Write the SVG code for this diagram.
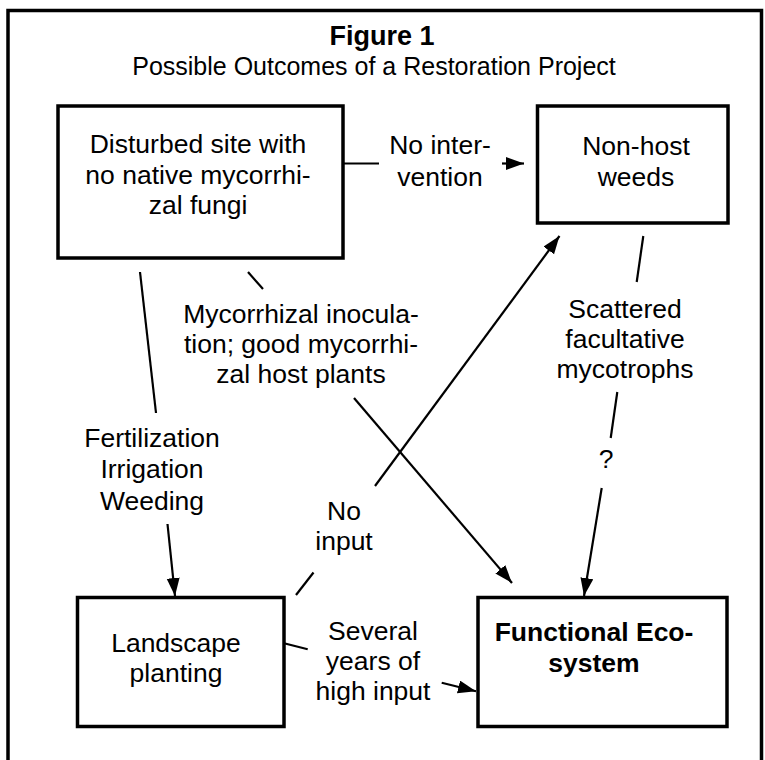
<svg xmlns="http://www.w3.org/2000/svg" width="765" height="760" viewBox="0 0 765 760">
<defs>
<style>
text{font-family:"Liberation Sans",Arial,sans-serif;font-size:26.5px;fill:#000;text-anchor:middle}
.b{font-weight:bold}
.box{fill:#fff;stroke:#000;stroke-width:3.5}
.c line{stroke:#000;stroke-width:2.2}
.c .a{marker-end:url(#ah)}
</style>
<marker id="ah" markerUnits="userSpaceOnUse" markerWidth="20" markerHeight="14" refX="18" refY="6.5" orient="auto" viewBox="0 0 20 14">
<path d="M0,0 L18,6.5 L0,13 z" fill="#000"/>
</marker>
</defs>
<rect x="0" y="0" width="765" height="760" fill="#fff"/>
<path id="frame" d="M8,800 L8,10.5 L761.5,10.5 L761.5,800" fill="none" stroke="#000" stroke-width="3.5"/>
<g id="title">
<text class="b" x="382" y="45" style="font-size:27px">Figure 1</text>
<text x="374" y="75" style="font-size:25px">Possible Outcomes of a Restoration Project</text>
</g>
<g id="n1">
<rect class="box" x="58" y="106" width="285" height="152"/>
<text x="198" y="153">Disturbed site with</text>
<text x="198" y="184">no native mycorrhi-</text>
<text x="198" y="214">zal fungi</text>
</g>
<g id="n2">
<rect class="box" x="537.5" y="106" width="190.5" height="117"/>
<text x="636" y="155">Non-host</text>
<text x="636" y="186">weeds</text>
</g>
<g id="n3">
<rect class="box" x="77.5" y="597.5" width="206.5" height="129"/>
<text x="176" y="652">Landscape</text>
<text x="176" y="682">planting</text>
</g>
<g id="n4">
<rect class="box" x="478" y="597.5" width="249" height="129"/>
<text class="b" x="594" y="641">Functional Eco-</text>
<text class="b" x="594" y="672">system</text>
</g>
<g id="connectors" class="c">
<line x1="343" y1="163.5" x2="379" y2="163.5"/>
<line class="a" x1="502" y1="163.5" x2="524" y2="163.5"/>
<line x1="140" y1="272" x2="156" y2="413"/>
<line class="a" x1="167.5" y1="524" x2="175" y2="596"/>
<line x1="248" y1="272" x2="263" y2="289"/>
<line class="a" x1="354" y1="398" x2="512" y2="583"/>
<line x1="296" y1="595" x2="313.5" y2="572.5"/>
<line class="a" x1="375" y1="486" x2="559.5" y2="236"/>
<line x1="643.3" y1="236" x2="636.7" y2="282"/>
<line x1="617.3" y1="392" x2="610.7" y2="438"/>
<line class="a" x1="601.7" y1="488" x2="584" y2="596"/>
<line x1="284" y1="643.3" x2="307.7" y2="649.3"/>
<line class="a" x1="441.7" y1="682.7" x2="476" y2="691.3"/>
</g>
<g id="labels">
<text x="440" y="154">No inter-</text>
<text x="440" y="186">vention</text>
<text x="152" y="447">Fertilization</text>
<text x="152" y="478">Irrigation</text>
<text x="152" y="510">Weeding</text>
<text x="301" y="323">Mycorrhizal inocula-</text>
<text x="301" y="353">tion; good mycorrhi-</text>
<text x="301" y="383">zal host plants</text>
<text x="344" y="520">No</text>
<text x="344" y="550">input</text>
<text x="625" y="318">Scattered</text>
<text x="625" y="348">facultative</text>
<text x="625" y="378">mycotrophs</text>
<text x="606" y="468">?</text>
<text x="373" y="640">Several</text>
<text x="373" y="670">years of</text>
<text x="373" y="700">high input</text>
</g>
</svg>
